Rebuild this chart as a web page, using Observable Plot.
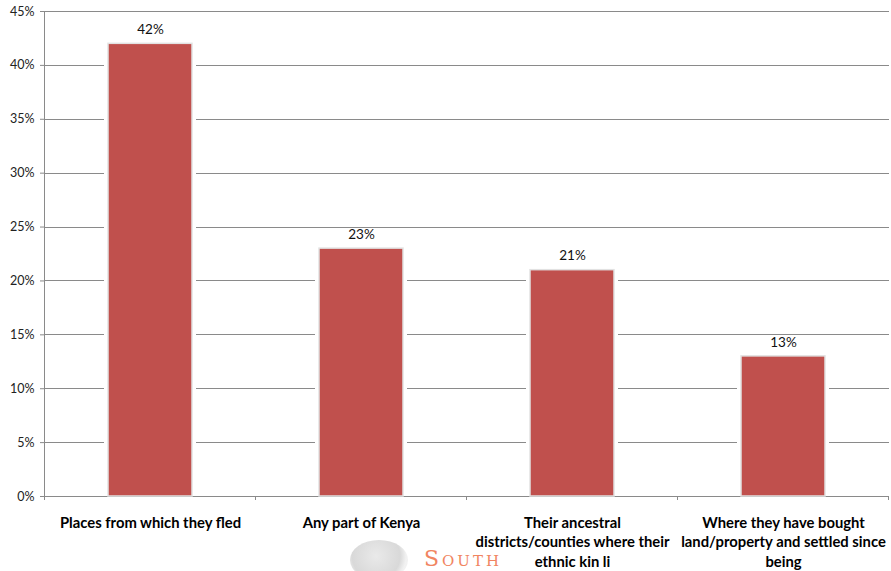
<!DOCTYPE html>
<html><head><meta charset="utf-8">
<script src="https://cdn.jsdelivr.net/npm/d3@7"></script>
<script src="https://cdn.jsdelivr.net/npm/@observablehq/plot@0.6"></script>
<style>
body{margin:0;background:#fff;font-family:Lato,"Open Sans",sans-serif}
#wrap{position:relative;width:891px;height:571px;overflow:hidden}
#mark{position:absolute;left:350px;top:536px;width:150px;height:35px;pointer-events:none}
#mark .globe{position:absolute;left:0;top:4px;width:58px;height:40px;border-radius:50%;background:radial-gradient(circle at 45% 40%,#e4e4e4,#cfcfcf 60%,#eee 75%);opacity:.8}
#mark .txt{position:absolute;left:74px;top:10px;font-family:"DejaVu Serif",serif;font-variant:small-caps;font-size:22px;letter-spacing:3px;color:#f07850;opacity:.9}
</style></head><body>
<div id="wrap"><div id="chart"></div><div id="mark"><div class="globe"></div><div class="txt">South</div></div></div>
<script>
const categories = ["Places from which they fled", "Any part of Kenya", "Their ancestral districts/counties where their ethnic kin li", "Where they have bought land/property and settled since being"];
const tickLabels = ["Places from which they fled", "Any part of Kenya", "Their ancestral\ndistricts/counties where their\nethnic kin li", "Where they have bought\nland/property and settled since\nbeing"];
const values = [0.42, 0.23, 0.21, 0.13];
const yTicks = [0, 0.05, 0.10, 0.15, 0.20, 0.25, 0.30, 0.35, 0.40, 0.45];

const data = categories.map((c, i) => ({category: c, value: values[i]}));
const labelOf = new Map(categories.map((c, i) => [c, tickLabels[i]]));
const pct = d3.format(".0%");

function frameLines(index, scales, values, dims) {
  const x = scales.x, y = scales.y;
  const bw = typeof x.bandwidth === "function" ? x.bandwidth() : x.bandwidth;
  let step = typeof x.step === "function" ? x.step() : x.step;
  if (!step) step = x(categories[1]) - x(categories[0]);
  const half = (step - bw) / 2;
  const y0 = y(0), yTop = y(yTicks[yTicks.length - 1]);
  const g = d3.create("svg:g").attr("stroke", "#8a8a8a").attr("stroke-width", 1).attr("shape-rendering", "crispEdges");
  const xs = categories.map(c => x(c) - half);
  xs.push(x(categories[categories.length - 1]) + bw + half);
  g.append("line").attr("x1", xs[0]).attr("x2", xs[0]).attr("y1", yTop).attr("y2", y0 + 4);
  for (const xx of xs) {
    g.append("line").attr("x1", xx).attr("x2", xx).attr("y1", y0).attr("y2", y0 + 4);
  }
  return g.node();
}

const chart = Plot.plot({
  width: 891, height: 571,
  marginLeft: 44, marginRight: 2, marginTop: 11, marginBottom: 75,
  style: {fontFamily: "Lato, 'Open Sans', sans-serif", fontSize: "12px", color: "#222", background: "#fff"},
  x: {domain: categories, paddingInner: 0.6, paddingOuter: 0.3},
  y: {domain: [0, 0.45]},
  marks: [
    Plot.ruleY(yTicks, {stroke: "#8a8a8a", strokeWidth: 1, shapeRendering: "crispEdges"}),
    Plot.axisY({ticks: yTicks, tickFormat: pct, tickSize: 4, tickPadding: 6, stroke: "#8a8a8a", fontSize: 12.5, label: null}),
    Plot.axisX({tickSize: 0, tickPadding: 17, tickFormat: d => labelOf.get(d), fontSize: 14.8, fontWeight: "bold", lineHeight: 1.34, fill: "#000", label: null}),
    frameLines,
    Plot.barY(data, {x: "category", y: "value", fill: "#fff", insetLeft: -4, insetRight: -4}),
    Plot.barY(data, {x: "category", y: "value", fill: "#C0504D", stroke: "#e2e2e2", strokeWidth: 1.5}),
    Plot.text(data, {x: "category", y: "value", text: d => pct(d.value), dy: -14, fontSize: 13.5, fill: "#111"})
  ]
});
document.getElementById("chart").append(chart);
</script>
</body></html>
